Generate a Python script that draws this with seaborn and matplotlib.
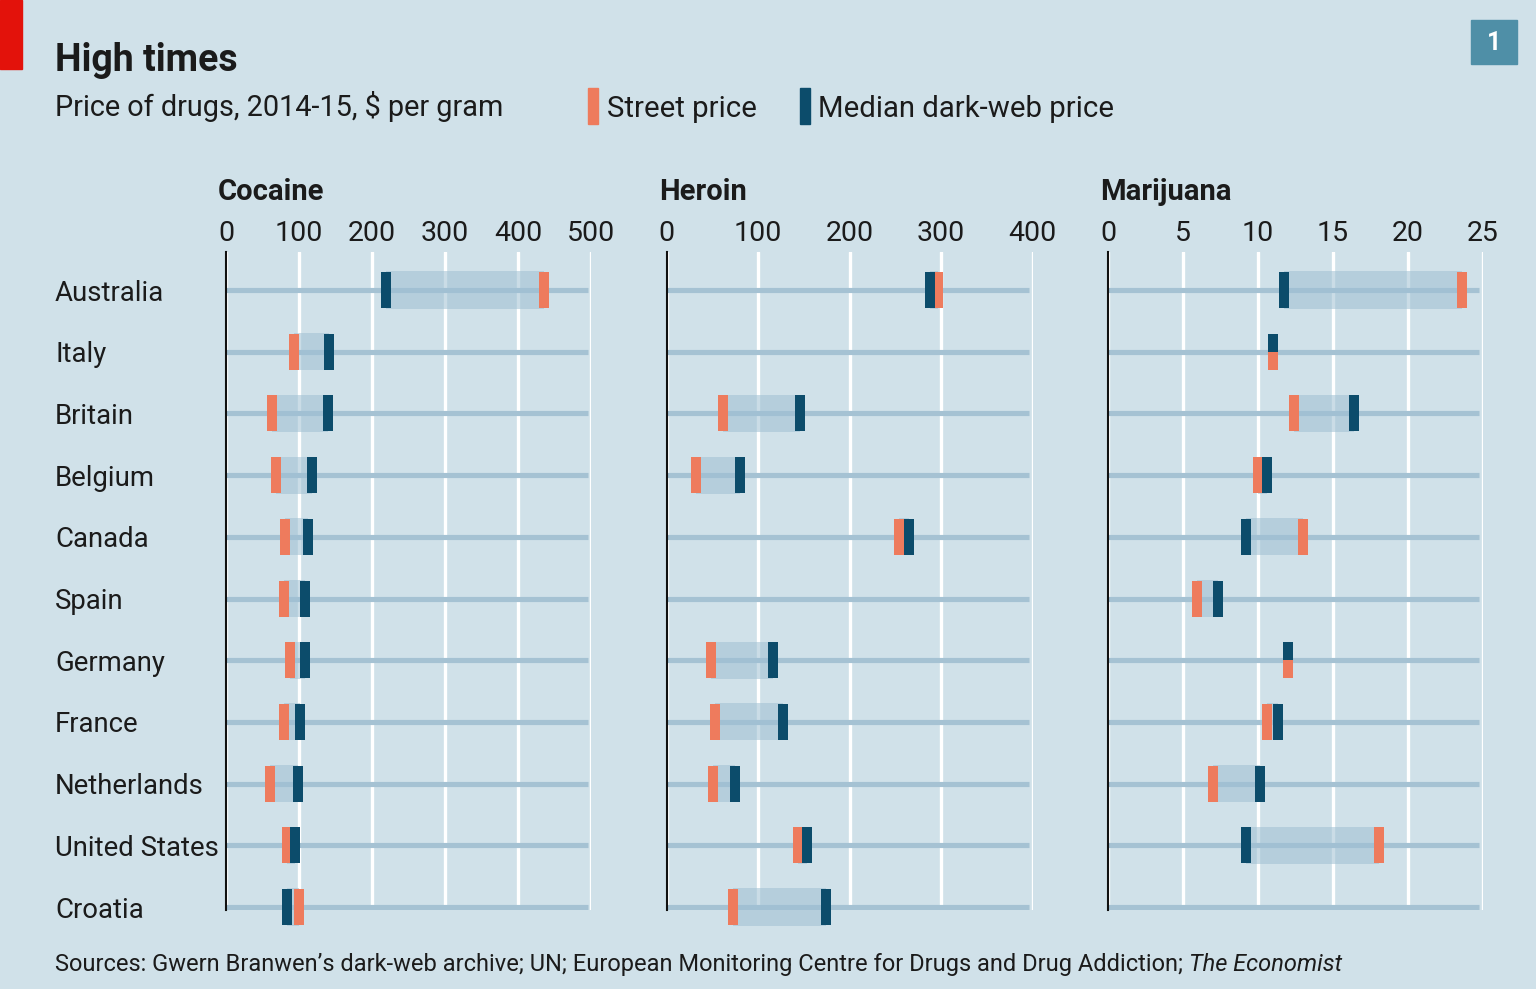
import numpy as np
import pandas as pd
import matplotlib
matplotlib.use("Agg")
import matplotlib.pyplot as plt
import seaborn as sns
from matplotlib.patches import Rectangle

# ---------------- data ----------------
countries = ["Australia", "Italy", "Britain", "Belgium", "Canada", "Spain",
             "Germany", "France", "Netherlands", "United States", "Croatia"]

cocaine_street = [436, 93, 63, 68, 81, 80, 88, 80, 60, 83, 100]
cocaine_dark = [219, 141, 140, 118, 113, 108, 108, 101, 99, 95, 84]

heroin_street = [296, np.nan, 62, 32, 254, np.nan, 48, 53, 51, 144, 73]
heroin_dark = [288, np.nan, 146, 80, 265, np.nan, 116, 127, 75, 153, 174]

marijuana_street = [23.6, 11.0, 12.4, 10.0, 13.0, 5.9, 12.0, 10.6, 7.0, 18.1, np.nan]
marijuana_dark = [11.7, 11.0, 16.4, 10.6, 9.2, 7.3, 12.0, 11.3, 10.1, 9.2, np.nan]

panel_titles = ["Cocaine", "Heroin", "Marijuana"]
cocaine_ticks = [0, 100, 200, 300, 400, 500]
heroin_ticks = [0, 100, 200, 300, 400]
marijuana_ticks = [0, 5, 10, 15, 20, 25]

title = "High times"
subtitle = "Price of drugs, 2014-15, $ per gram"
legend_labels = ["Street price", "Median dark-web price"]
source_main = "Sources: Gwern Branwen\u2019s dark-web archive; UN; European Monitoring Centre for Drugs and Drug Addiction; "
source_ital = "The Economist"

# ---------------- style ----------------
BG = "#d0e1e9"
ROW = "#a5c2d3"
BOX = "#9fc0d3"
ORANGE = "#ee7b5d"
DARK = "#0c4c6b"
TEXT = "#1b1b1b"
RED = "#e3120b"
NUMBOX = "#4f8fa7"

sns.set_theme(style="white")
plt.rcParams["font.family"] = ["Roboto", "DejaVu Sans"]
plt.rcParams["axes.facecolor"] = BG

W, H = 1536, 989
fig = plt.figure(figsize=(W / 100, H / 100), dpi=100, facecolor=BG)


def fx(x):
    return x / W


def fy(y):
    return 1 - y / H


AX_TOP, AX_BOT = 252, 910
ROW0, ROWN = 290, 907
step = (ROWN - ROW0) / 10.0
ylim_top = -(ROW0 - AX_TOP) / step
ylim_bot = 10 + (AX_BOT - ROWN) / step

full = [(-0.131, -0.5), (0.131, -0.5), (0.131, 0.5), (-0.131, 0.5), (-0.131, -0.5)]
top_half = [(-0.131, 0.0), (0.131, 0.0), (0.131, 0.5), (-0.131, 0.5), (-0.131, 0.0)]
bot_half = [(-0.131, -0.5), (0.131, -0.5), (0.131, 0.0), (-0.131, 0.0), (-0.131, -0.5)]
MS = 709  # (37 px tall)^2 in points^2

panels = [
    (226, 591, cocaine_street, cocaine_dark, cocaine_ticks, 218),
    (666.7, 1032.7, heroin_street, heroin_dark, heroin_ticks, 659),
    (1108.3, 1482.7, marijuana_street, marijuana_dark, marijuana_ticks, 1100),
]

for i, (x0, x1, street, dark, ticks, tx) in enumerate(panels):
    ax = fig.add_axes([fx(x0), fy(AX_BOT), (x1 - x0) / W, (AX_BOT - AX_TOP) / H])
    ax.set_facecolor("none")
    xmax = ticks[-1]
    df = pd.DataFrame({"country": countries, "pos": np.arange(len(countries)),
                       "street": street, "dark": dark})

    ax.hlines(df["pos"], 0, xmax * 0.991, color=ROW, lw=3.7, zorder=1)

    both = df.dropna()
    lo = both[["street", "dark"]].min(axis=1)
    hi = both[["street", "dark"]].max(axis=1)
    ax.barh(both["pos"], hi - lo, left=lo, height=0.6, color=BOX, alpha=0.55,
            linewidth=0, zorder=2, clip_on=False)

    same = both[both["street"] == both["dark"]]
    diff = both[both["street"] != both["dark"]]

    if len(diff):
        sns.scatterplot(data=diff, x="street", y="pos", marker=full, s=MS, color=ORANGE,
                        linewidth=0, zorder=3, clip_on=False, ax=ax, legend=False)
        sns.scatterplot(data=diff, x="dark", y="pos", marker=full, s=MS, color=DARK,
                        linewidth=0, zorder=4, clip_on=False, ax=ax, legend=False)
    if len(same):
        sns.scatterplot(data=same, x="street", y="pos", marker=bot_half, s=MS, color=ORANGE,
                        linewidth=0, zorder=3, clip_on=False, ax=ax, legend=False)
        sns.scatterplot(data=same, x="dark", y="pos", marker=top_half, s=MS, color=DARK,
                        linewidth=0, zorder=4, clip_on=False, ax=ax, legend=False)

    ax.set_xlim(0, xmax)
    ax.set_ylim(ylim_bot, ylim_top)
    ax.set_xlabel("")
    ax.set_ylabel("")
    ax.set_xticks(ticks)
    ax.set_xticklabels([str(t) for t in ticks])
    ax.xaxis.tick_top()
    ax.tick_params(axis="x", length=0, pad=3.5, labelsize=20.5, colors=TEXT)
    ax.grid(axis="x", color="white", lw=2.4, zorder=0)
    ax.grid(axis="y", visible=False)
    ax.set_axisbelow(True)
    for s in ["top", "right", "bottom"]:
        ax.spines[s].set_visible(False)
    ax.spines["left"].set_color("#111111")
    ax.spines["left"].set_linewidth(1.5)
    ax.spines["left"].set_zorder(5)

    if i == 0:
        ax.set_yticks(range(len(countries)))
        ax.set_yticklabels(countries, ha="left")
        ax.tick_params(axis="y", length=0, pad=(x0 - 55) * 0.72, labelsize=19.8, colors=TEXT)
    else:
        ax.set_yticks([])

    fig.text(fx(tx), fy(200), panel_titles[i], fontsize=21, fontweight="bold",
             color=TEXT, va="baseline", ha="left")

# ---------------- header ----------------
fig.patches.append(Rectangle((0, fy(69)), fx(22), 69 / H, transform=fig.transFigure,
                             color=RED, zorder=10))
fig.text(fx(55), fy(71), title, fontsize=27, fontweight="bold", color=TEXT, va="baseline")
fig.text(fx(55), fy(116), subtitle, fontsize=20.8, color=TEXT, va="baseline")

fig.patches.append(Rectangle((fx(588), fy(124)), 10 / W, 36 / H, transform=fig.transFigure,
                             color=ORANGE, zorder=10))
fig.text(fx(607), fy(117), legend_labels[0], fontsize=21.2, color=TEXT, va="baseline")
fig.patches.append(Rectangle((fx(800), fy(124)), 10 / W, 36 / H, transform=fig.transFigure,
                             color=DARK, zorder=10))
fig.text(fx(818), fy(117), legend_labels[1], fontsize=21.2, color=TEXT, va="baseline")

fig.patches.append(Rectangle((fx(1471), fy(64)), 46 / W, 44 / H, transform=fig.transFigure,
                             color=NUMBOX, zorder=10))
fig.text(fx(1494), fy(43), "1", fontsize=18, fontweight="bold", color="white",
         ha="center", va="center", zorder=11)

# ---------------- sources ----------------
r = fig.canvas.get_renderer()
t1 = fig.text(fx(55), fy(971), source_main, fontsize=17, color=TEXT, va="baseline")
bb = t1.get_window_extent(renderer=r)
fig.text(bb.x1 / W, fy(971), source_ital, fontsize=17, color=TEXT, va="baseline",
         style="italic")

fig.savefig("out.png", dpi=100, facecolor=BG)
